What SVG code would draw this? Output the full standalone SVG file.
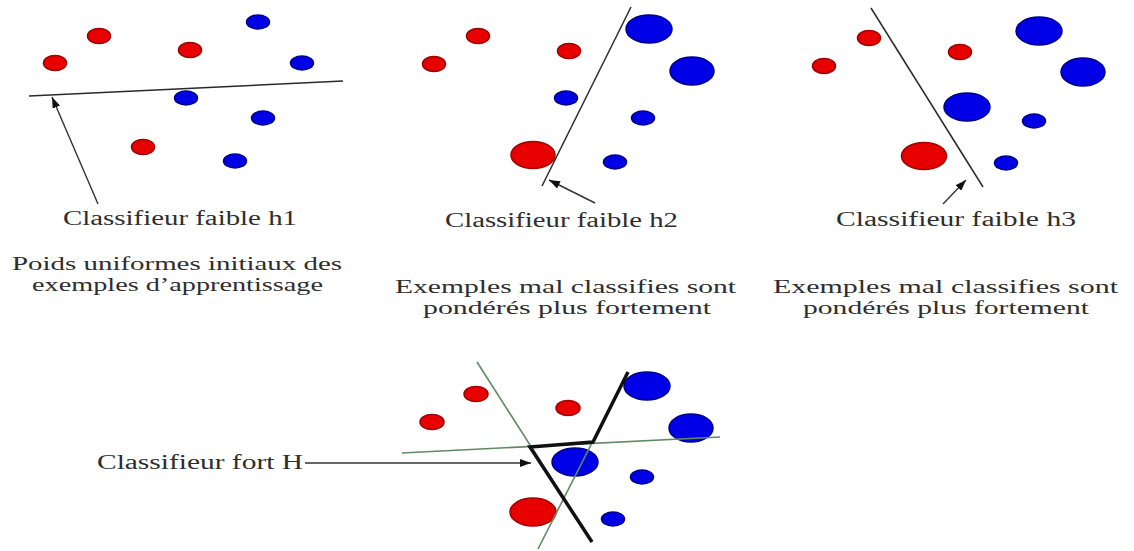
<svg xmlns="http://www.w3.org/2000/svg" width="1134" height="551" viewBox="0 0 1134 551">
<style>
.r{fill:#e80000;stroke:#a00000;stroke-width:1.5}
.b{fill:#0000e6;stroke:#00008a;stroke-width:1.5}
.sep{stroke:#2a2a2a;stroke-width:1.5;fill:none}
.arr{stroke:#333;stroke-width:1.4;fill:none;marker-end:url(#ah)}
.g{stroke:#5f8a64;stroke-width:1.6;fill:none}
.k{stroke:#111;stroke-width:3.5;fill:none;stroke-linejoin:miter}
.lbl{font-family:"Liberation Serif",serif;font-size:20px;fill:#2e2e2e}
.cap{font-family:"Liberation Serif",serif;font-size:19px;fill:#2e2e2e}
</style>
<defs>
<marker id="ah" markerUnits="userSpaceOnUse" markerWidth="11" markerHeight="8" refX="11" refY="4" orient="auto">
<path d="M0,0 L11,4 L0,8 z" fill="#111"/>
</marker>
</defs>
<rect width="1134" height="551" fill="#fff"/>

<g id="panel1">
<ellipse class="r" cx="55" cy="63" rx="11.5" ry="7.5"/>
<ellipse class="r" cx="99" cy="36" rx="11.5" ry="7.5"/>
<ellipse class="r" cx="190" cy="50" rx="11.5" ry="7.5"/>
<ellipse class="r" cx="143" cy="147" rx="11.5" ry="7.5"/>
<ellipse class="b" cx="258" cy="22" rx="11.5" ry="7"/>
<ellipse class="b" cx="302" cy="63" rx="11.5" ry="7"/>
<ellipse class="b" cx="186" cy="98" rx="11.5" ry="7"/>
<ellipse class="b" cx="263" cy="118" rx="11.5" ry="7"/>
<ellipse class="b" cx="235" cy="161" rx="11.5" ry="7"/>
<line class="sep" x1="29" y1="96" x2="343" y2="81"/>
<text class="lbl" x="63" y="225" textLength="234" lengthAdjust="spacingAndGlyphs">Classifieur faible h1</text>
<text class="cap" x="12" y="270" textLength="330" lengthAdjust="spacingAndGlyphs">Poids uniformes initiaux des</text>
<text class="cap" x="32" y="291" textLength="291" lengthAdjust="spacingAndGlyphs">exemples d’apprentissage</text>
</g>

<g id="panel2">
<ellipse class="r" cx="434" cy="64" rx="11.5" ry="7.5"/>
<ellipse class="r" cx="478" cy="36" rx="11.5" ry="7.5"/>
<ellipse class="r" cx="569" cy="51" rx="11.5" ry="7.5"/>
<ellipse class="r" cx="533" cy="155" rx="22" ry="13.5"/>
<ellipse class="b" cx="649" cy="29" rx="23" ry="14"/>
<ellipse class="b" cx="692" cy="71" rx="22" ry="14"/>
<ellipse class="b" cx="566" cy="98" rx="11.5" ry="7"/>
<ellipse class="b" cx="643" cy="118" rx="11.5" ry="7"/>
<ellipse class="b" cx="615" cy="162" rx="11.5" ry="7"/>
<line class="sep" x1="631" y1="7" x2="542" y2="186"/>
<text class="lbl" x="445" y="227" textLength="233" lengthAdjust="spacingAndGlyphs">Classifieur faible h2</text>
<text class="cap" x="395" y="293" textLength="341" lengthAdjust="spacingAndGlyphs">Exemples mal classifies sont</text>
<text class="cap" x="423" y="314" textLength="288" lengthAdjust="spacingAndGlyphs">pondérés plus fortement</text>
</g>

<g id="panel3">
<ellipse class="r" cx="824" cy="66" rx="11.5" ry="7.5"/>
<ellipse class="r" cx="869" cy="38" rx="11.5" ry="7.5"/>
<ellipse class="r" cx="960" cy="52" rx="11.5" ry="7.5"/>
<ellipse class="r" cx="924" cy="156" rx="22.5" ry="13.5"/>
<ellipse class="b" cx="1039" cy="31" rx="23" ry="14"/>
<ellipse class="b" cx="1083" cy="72" rx="22" ry="14"/>
<ellipse class="b" cx="967" cy="107" rx="23" ry="14"/>
<ellipse class="b" cx="1034" cy="121" rx="11.5" ry="7"/>
<ellipse class="b" cx="1006" cy="163" rx="11.5" ry="7"/>
<line class="sep" x1="871" y1="8" x2="983" y2="187"/>
<text class="lbl" x="836" y="226" textLength="240" lengthAdjust="spacingAndGlyphs">Classifieur faible h3</text>
<text class="cap" x="773" y="293" textLength="345" lengthAdjust="spacingAndGlyphs">Exemples mal classifies sont</text>
<text class="cap" x="803" y="314" textLength="286" lengthAdjust="spacingAndGlyphs">pondérés plus fortement</text>
</g>

<g id="panel4">
<ellipse class="r" cx="432" cy="422" rx="12" ry="7.5"/>
<ellipse class="r" cx="476" cy="394" rx="12" ry="7.5"/>
<ellipse class="r" cx="568" cy="408" rx="12" ry="7.5"/>
<ellipse class="r" cx="533" cy="512" rx="23" ry="14"/>
<ellipse class="b" cx="647" cy="386" rx="23" ry="14"/>
<ellipse class="b" cx="691" cy="428" rx="22" ry="14"/>
<ellipse class="b" cx="575" cy="462" rx="23" ry="14"/>
<ellipse class="b" cx="642" cy="477" rx="11.5" ry="7"/>
<ellipse class="b" cx="613" cy="519" rx="11.5" ry="7"/>
<line class="g" x1="477" y1="362" x2="592" y2="542"/>
<line class="g" x1="538" y1="549" x2="628" y2="372"/>
<line class="g" x1="402" y1="453" x2="720" y2="437"/>
<polyline class="k" points="628,372 593,442 530,447 592,542"/>
<text class="lbl" x="97" y="469" textLength="206" lengthAdjust="spacingAndGlyphs">Classifieur fort H</text>
</g>

<g id="connectors">
<line class="arr" x1="98" y1="204" x2="52" y2="97"/>
<line class="arr" x1="595" y1="203" x2="549" y2="180"/>
<line class="arr" x1="943" y1="204" x2="966" y2="180"/>
<line class="arr" x1="305" y1="463" x2="531" y2="463"/>
</g>
</svg>
